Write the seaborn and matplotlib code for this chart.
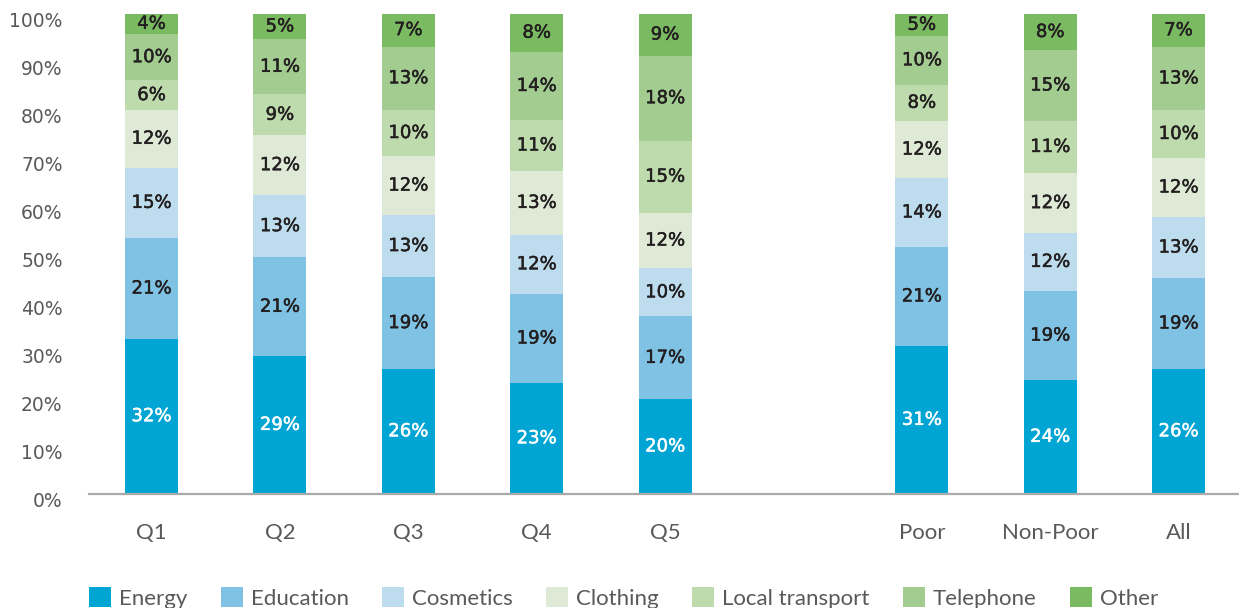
import numpy as np
import pandas as pd
import matplotlib
matplotlib.use("Agg")
import matplotlib.pyplot as plt
import matplotlib.transforms as mtransforms
import matplotlib.patheffects as pe
from matplotlib.patches import Patch
import seaborn as sns

# groups on the x axis, with one empty slot between quintiles and poverty groups
groups = ["Q1", "Q2", "Q3", "Q4", "Q5", "Poor", "Non-Poor", "All"]
group_order = ["Q1", "Q2", "Q3", "Q4", "Q5", " ", "Poor", "Non-Poor", "All"]
categories = ["Energy", "Education", "Cosmetics", "Clothing",
              "Local transport", "Telephone", "Other"]

# shares (%), bottom to top
energy = [32.2, 28.6, 25.9, 23.0, 19.6, 30.7, 23.6, 25.9]
education = [21.0, 20.6, 19.2, 18.6, 17.3, 20.7, 18.6, 19.0]
cosmetics = [14.7, 13.0, 12.9, 12.3, 10.0, 14.3, 12.1, 12.7]
clothing = [12.0, 12.4, 12.3, 13.3, 11.6, 11.9, 12.4, 12.3]
local_transport = [6.2, 8.6, 9.6, 10.6, 15.0, 7.6, 11.0, 10.0]
telephone = [9.6, 11.4, 13.2, 14.2, 17.7, 10.1, 14.6, 13.1]
other = [4.3, 5.4, 6.9, 8.0, 8.8, 4.7, 7.7, 7.0]

colors = ["#00A5D3", "#7FC2E3", "#BDDDEE", "#DEEAD5",
          "#BDDBAC", "#A2CC90", "#7ABB62"]
label_colors = ["white"] + ["#231F20"] * 6

sns.set_style("white")
plt.rcParams["font.family"] = ["Lato", "DejaVu Sans"]

# long table with cumulative tops for the stacked layers
series = [energy, education, cosmetics, clothing, local_transport, telephone, other]
df = pd.DataFrame({cat: vals for cat, vals in zip(categories, series)}, index=groups)
cum = df.cumsum(axis=1)
long_df = cum.reset_index(names="group").melt(id_vars="group", var_name="category", value_name="top")

fig = plt.figure(figsize=(12.39, 6.08), dpi=100)
ax = fig.add_axes([89 / 1239, 114.5 / 608, 1150 / 1239, 480 / 608])

bar_w = 0.413
# draw the tallest cumulative layer first, smaller ones on top
for cat, col in reversed(list(zip(categories, colors))):
    sub = long_df[long_df["category"] == cat]
    sns.barplot(data=sub, x="group", y="top", order=group_order, color=col,
                saturation=1, width=bar_w, errorbar=None, ax=ax, linewidth=0)

# value labels in the middle of each segment (thin stroke gives a medium weight)
for g in groups:
    xpos = group_order.index(g)
    bottom = 0
    for cat, lc in zip(categories, label_colors):
        v = df.loc[g, cat]
        ax.text(xpos, bottom + v / 2, f"{v:.0f}%", ha="center", va="center",
                fontsize=13, color=lc, family="DejaVu Sans",
                path_effects=[pe.withStroke(linewidth=0.35, foreground=lc)])
        bottom += v

ax.set_xlim(-0.487, 8.471)
ax.set_ylim(0, 100)
ax.set_xlabel("")
ax.set_ylabel("")
ax.set_yticks(np.arange(0, 101, 10))
ax.set_yticklabels([f"{t}%" for t in range(0, 101, 10)], family="DejaVu Sans",
                   fontsize=13.5, color="#595959")
ax.set_xticks(range(len(group_order)))
ax.set_xticklabels(group_order, fontsize=16, color="#595959")
ax.tick_params(axis="both", length=0)
ax.tick_params(axis="y", pad=19)
ax.tick_params(axis="x", pad=21)

# y labels sit a little below their ticks in the original
shift = mtransforms.ScaledTranslation(0, -6 / 100, fig.dpi_scale_trans)
for lab in ax.get_yticklabels():
    lab.set_transform(lab.get_transform() + shift)

sns.despine(ax=ax, left=True, top=True, right=True)
ax.spines["bottom"].set_color("#AAAAAA")
ax.spines["bottom"].set_linewidth(1.6)
ax.grid(False)

handles = [Patch(facecolor=c, edgecolor="none", label=l) for c, l in zip(colors, categories)]
fig.legend(handles=handles, loc="center left", bbox_to_anchor=(89 / 1239, 10 / 608),
           ncol=7, frameon=False, fontsize=16, handlelength=1.0, handleheight=1.0,
           handletextpad=0.35, columnspacing=1.5, borderpad=0, borderaxespad=0,
           labelcolor="#595959")

fig.savefig("out.png", dpi=100)
